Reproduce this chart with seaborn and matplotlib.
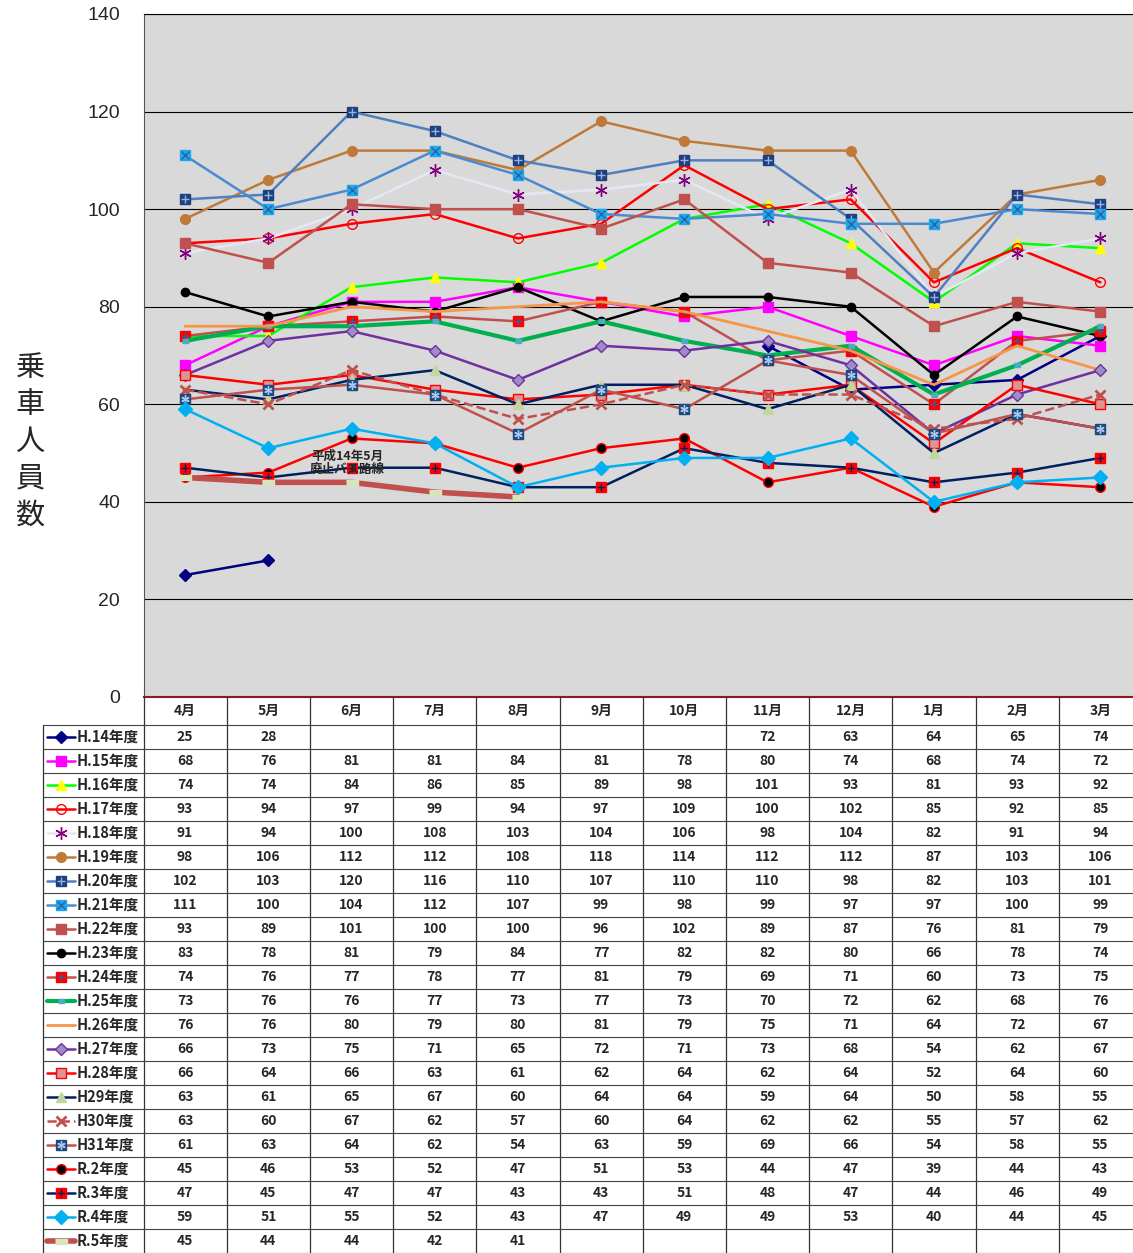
import numpy as np
import pandas as pd
import seaborn as sns
import matplotlib.pyplot as plt

nan = np.nan

months = ['4月', '5月', '6月', '7月', '8月', '9月', '10月', '11月', '12月', '1月', '2月', '3月']

labels = ['H.14年度', 'H.15年度', 'H.16年度', 'H.17年度', 'H.18年度', 'H.19年度',
          'H.20年度', 'H.21年度', 'H.22年度', 'H.23年度', 'H.24年度', 'H.25年度',
          'H.26年度', 'H.27年度', 'H.28年度', 'H29年度', 'H30年度', 'H31年度',
          'R.2年度', 'R.3年度', 'R.4年度', 'R.5年度']

h14 = [25, 28, nan, nan, nan, nan, nan, 72, 63, 64, 65, 74]
h15 = [68, 76, 81, 81, 84, 81, 78, 80, 74, 68, 74, 72]
h16 = [74, 74, 84, 86, 85, 89, 98, 101, 93, 81, 93, 92]
h17 = [93, 94, 97, 99, 94, 97, 109, 100, 102, 85, 92, 85]
h18 = [91, 94, 100, 108, 103, 104, 106, 98, 104, 82, 91, 94]
h19 = [98, 106, 112, 112, 108, 118, 114, 112, 112, 87, 103, 106]
h20 = [102, 103, 120, 116, 110, 107, 110, 110, 98, 82, 103, 101]
h21 = [111, 100, 104, 112, 107, 99, 98, 99, 97, 97, 100, 99]
h22 = [93, 89, 101, 100, 100, 96, 102, 89, 87, 76, 81, 79]
h23 = [83, 78, 81, 79, 84, 77, 82, 82, 80, 66, 78, 74]
h24 = [74, 76, 77, 78, 77, 81, 79, 69, 71, 60, 73, 75]
h25 = [73, 76, 76, 77, 73, 77, 73, 70, 72, 62, 68, 76]
h26 = [76, 76, 80, 79, 80, 81, 79, 75, 71, 64, 72, 67]
h27 = [66, 73, 75, 71, 65, 72, 71, 73, 68, 54, 62, 67]
h28 = [66, 64, 66, 63, 61, 62, 64, 62, 64, 52, 64, 60]
h29 = [63, 61, 65, 67, 60, 64, 64, 59, 64, 50, 58, 55]
h30 = [63, 60, 67, 62, 57, 60, 64, 62, 62, 55, 57, 62]
h31 = [61, 63, 64, 62, 54, 63, 59, 69, 66, 54, 58, 55]
r2 = [45, 46, 53, 52, 47, 51, 53, 44, 47, 39, 44, 43]
r3 = [47, 45, 47, 47, 43, 43, 51, 48, 47, 44, 46, 49]
r4 = [59, 51, 55, 52, 43, 47, 49, 49, 53, 40, 44, 45]
r5 = [45, 44, 44, 42, 41, nan, nan, nan, nan, nan, nan, nan]

series = [h14, h15, h16, h17, h18, h19, h20, h21, h22, h23, h24, h25,
          h26, h27, h28, h29, h30, h31, r2, r3, r4, r5]

note = '平成14年5月\n廃止バス路線'

# excel-like series styles: line color, marker, face, edge, size, width, linestyle, inner glyph
rect = [(-1, -0.45), (1, -0.45), (1, 0.45), (-1, 0.45)]
styles = [
    dict(c='#000080', m='D', fc='#000080', ec='#000080', ms=6),
    dict(c='#FF00FF', m='s', fc='#FF00FF', ec='#FF00FF', ms=7),
    dict(c='#00FF00', m='^', fc='#FFFF00', ec='#FFFF00', ms=7),
    dict(c='#FF0000', m='o', fc='none', ec='#FF0000', ms=7),
    dict(c='#E4E8F4', m=(6, 2, 0), fc='#800080', ec='#800080', ms=9),
    dict(c='#BF7A3A', m='o', fc='#BF7A3A', ec='#BF7A3A', ms=7),
    dict(c='#4F7FBF', m='s', fc='#1F3F7F', ec='#1F3F7F', ms=7, inner=('+', '#8FB4E3')),
    dict(c='#4A8AD0', m='s', fc='#1EA8EC', ec='#1EA8EC', ms=7, inner=('x', '#3060A0')),
    dict(c='#C0504D', m='s', fc='#C0504D', ec='#C0504D', ms=7),
    dict(c='#000000', m='o', fc='#000000', ec='#000000', ms=6),
    dict(c='#C0504D', m='s', fc='#FF0000', ec='#FF0000', ms=7, inner=('+', '#3060A0')),
    dict(c='#00B050', m=rect, fc='#4BACC6', ec='#4BACC6', ms=5, lw=3),
    dict(c='#F79646', m=None, fc='none', ec='none', ms=0, lw=2),
    dict(c='#7030A0', m='D', fc='#9E8CC8', ec='#7030A0', ms=6),
    dict(c='#FF0000', m='s', fc='#D99694', ec='#FF0000', ms=7),
    dict(c='#002060', m='^', fc='#C3D69B', ec='#C3D69B', ms=7),
    dict(c='#C0504D', m='x', fc='#C0504D', ec='#C0504D', ms=7, ls='--', mew=2),
    dict(c='#C0504D', m='s', fc='#1F497D', ec='#1F497D', ms=7, inner=((6, 2, 0), '#A6C8F0')),
    dict(c='#FF0000', m='o', fc='#000000', ec='#FF0000', ms=7),
    dict(c='#002060', m='s', fc='#FF0000', ec='#FF0000', ms=7, inner=('+', '#002060')),
    dict(c='#00B0F0', m='D', fc='#00B0F0', ec='#00B0F0', ms=7),
    dict(c='#C0504D', m=rect, fc='#D7E4BC', ec='#D7E4BC', ms=8, lw=4),
]

sns.set_style('ticks')
plt.rcParams['font.family'] = ['Liberation Sans', 'Noto Sans CJK JP', 'DejaVu Sans']
cjk = ['Noto Sans CJK JP', 'DejaVu Sans']

W, H = 1133, 1253
x0 = 143.5          # left edge of plot area / first table column
cw = 83.2           # column width; the plot runs a little past the right edge
fig = plt.figure(figsize=(W / 100, H / 100), dpi=100)

ax = fig.add_axes([x0 / W, 1 - 697 / H, 12 * cw / W, 683 / H])
ax.set_facecolor('#D9D9D9')

for name, vals, st in zip(labels, series, styles):
    v = np.array(vals, dtype=float)
    seg = np.cumsum(np.isnan(v))
    df = pd.DataFrame({'m': np.arange(12), 'v': v, 'seg': seg}).dropna()
    kws = dict(color=st['c'], linewidth=st.get('lw', 1.8), linestyle=st.get('ls', '-'),
               markeredgecolor=st['ec'], markeredgewidth=st.get('mew', 1))
    if st['m'] is not None:
        kws.update(marker=st['m'], markersize=st['ms'], markerfacecolor=st['fc'])
    sns.lineplot(data=df, x='m', y='v', units='seg', estimator=None, ax=ax,
                 legend=False, **kws)
    if 'inner' in st:
        im, ic = st['inner']
        ax.plot(df['m'], df['v'], linestyle='none', marker=im, markersize=st['ms'] - 1,
                markeredgecolor=ic, markeredgewidth=1, color=ic)

ax.text(1.95, 48, note, ha='center', va='center', fontsize=9, fontweight='bold',
        family=cjk, linespacing=1.0)

ax.set_xlim(-0.5, 11.5)
ax.set_ylim(0, 140)
ax.set_yticks(range(0, 141, 20))
ax.yaxis.grid(True, color='black', linewidth=0.8)
ax.set_axisbelow(True)
ax.set_xticks([])
ax.set_xlabel('')
ax.set_ylabel('')
ax.tick_params(axis='y', labelsize=14, length=0, pad=17)
ax.spines['right'].set_visible(False)
ax.spines['top'].set_color('black')
ax.spines['top'].set_linewidth(0.8)
ax.spines['left'].set_color('#555555')
ax.spines['bottom'].set_color('#8B1A1A')
ax.spines['bottom'].set_linewidth(1.5)

fig.text(30 / W, 1 - 442 / H, '\n'.join('乗車人員数'), ha='center', va='center',
         fontsize=21, family=cjk, linespacing=1.3)

# data table below the plot
tb = fig.add_axes([0, 0, 1, 556 / H])
tb.set_xlim(0, W)
tb.set_ylim(H, 697)
tb.axis('off')
centers = [x0 + cw * (i + 0.5) for i in range(12)]

for i, mname in enumerate(months):
    tb.text(centers[i], 711, mname, ha='center', va='center', fontsize=10,
            fontweight='bold', family=cjk)

for r, (name, vals, st) in enumerate(zip(labels, series, styles)):
    yc = 737 + 24 * r
    lw = st.get('lw', 1.8)
    tb.plot([47, 75], [yc, yc], color=st['c'], linewidth=lw, linestyle=st.get('ls', '-'))
    if st['m'] is not None:
        tb.plot([61], [yc], marker=st['m'], markersize=st['ms'], markerfacecolor=st['fc'],
                markeredgecolor=st['ec'], markeredgewidth=st.get('mew', 1), linestyle='none')
    if 'inner' in st:
        im, ic = st['inner']
        tb.plot([61], [yc], marker=im, markersize=st['ms'] - 1, markeredgecolor=ic,
                markeredgewidth=1, color=ic, linestyle='none')
    tb.text(77, yc, name, ha='left', va='center', fontsize=10.5, fontweight='bold', family=cjk)
    for i, v in enumerate(vals):
        if not np.isnan(v):
            tb.text(centers[i], yc, f'{int(v)}', ha='center', va='center', fontsize=10,
                    fontweight='bold', family=cjk)

# table rules
for k in range(13):
    x = x0 + cw * k
    tb.plot([x, x], [697, H], color='#333333', linewidth=0.9)
tb.plot([43, 43], [725, H], color='#333333', linewidth=0.9)
for r in range(23):
    y = 725 + 24 * r
    tb.plot([43, x0 + 12 * cw], [y, y], color='#444444', linewidth=0.8)

fig.savefig('out.png', dpi=100)
